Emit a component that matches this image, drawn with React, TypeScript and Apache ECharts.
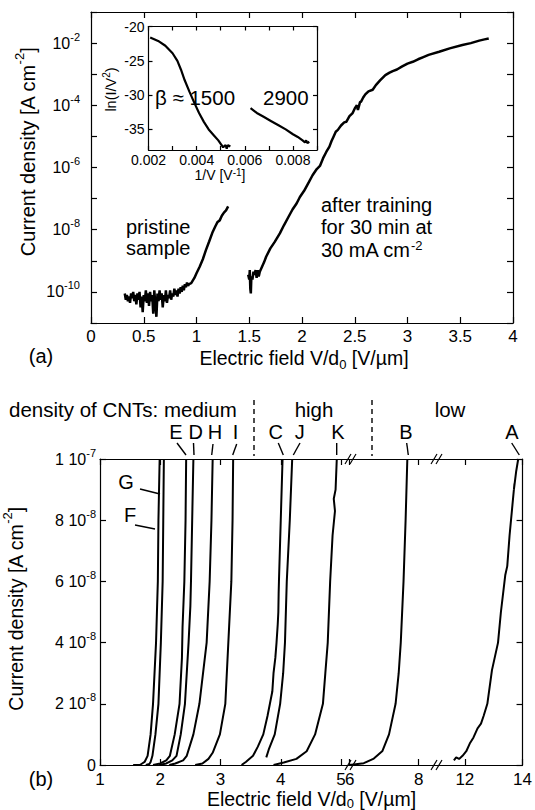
import React, { useEffect, useRef } from 'react';
import * as echarts from 'echarts';

const FONT = '"Liberation Sans", Arial, Helvetica, sans-serif';

// ---------- Panel (a): J–E, log10 of current density ----------
const pristineField = [0.32,0.33,0.34,0.35,0.36,0.37,0.38,0.39,0.40,0.41,0.42,0.43,0.44,0.45,0.46,0.47,0.48,0.49,0.50,0.51,0.52,0.53,0.54,0.55,0.56,0.57,0.58,0.59,0.60,0.61,0.62,0.63,0.64,0.65,0.66,0.67,0.68,0.69,0.70,0.71,0.72,0.73,0.74,0.75,0.76,0.77,0.78,0.79,0.80,0.81,0.82,0.83,0.84,0.85,0.86,0.87,0.88,0.89,0.90,0.91,0.92,0.93,0.95,0.98,1.00,1.03,1.06,1.09,1.12,1.15,1.18,1.20,1.22,1.24,1.26,1.28,1.30];
const pristineLogJ = [-10.05,-10.25,-10.1,-10.3,-10.15,-10.35,-10.05,-10.2,-10.0,-10.3,-10.1,-10.4,-10.05,-10.25,-10.0,-10.5,-10.15,-10.65,-10.1,-10.3,-9.95,-10.35,-10.05,-10.45,-10.0,-10.3,-10.1,-10.7,-9.95,-10.4,-10.8,-10.05,-10.3,-9.95,-10.25,-10.05,-10.5,-10.1,-10.3,-9.95,-10.35,-10.1,-10.2,-9.95,-10.25,-10.05,-10.15,-9.9,-10.1,-9.95,-10.15,-9.9,-10.05,-9.85,-10.0,-9.8,-9.95,-9.75,-9.85,-9.7,-9.8,-9.75,-9.72,-9.55,-9.4,-9.19,-8.95,-8.65,-8.38,-8.1,-7.88,-7.75,-7.7,-7.55,-7.45,-7.38,-7.25];

const trainedField = [1.49,1.50,1.505,1.51,1.515,1.52,1.53,1.54,1.55,1.56,1.57,1.58,1.59,1.60,1.62,1.64,1.66,1.70,1.74,1.79,1.83,1.87,1.91,1.95,1.98,2.02,2.06,2.10,2.14,2.17,2.20,2.23,2.26,2.28,2.30,2.32,2.34,2.37,2.40,2.42,2.45,2.48,2.50,2.52,2.53,2.55,2.56,2.58,2.60,2.63,2.67,2.70,2.74,2.79,2.83,2.86,2.90,2.95,3.00,3.05,3.10,3.15,3.20,3.30,3.40,3.52,3.60,3.68,3.73,3.77];
const trainedLogJ = [-9.45,-9.6,-9.3,-9.9,-10.05,-9.5,-9.6,-9.35,-9.45,-9.3,-9.55,-9.3,-9.5,-9.35,-9.2,-9.05,-8.87,-8.6,-8.4,-8.12,-7.85,-7.6,-7.35,-7.15,-6.95,-6.75,-6.5,-6.25,-6.05,-5.95,-5.7,-5.5,-5.33,-5.15,-5.0,-4.85,-4.79,-4.65,-4.55,-4.53,-4.35,-4.25,-4.1,-4.0,-4.15,-3.9,-3.88,-3.75,-3.65,-3.55,-3.5,-3.35,-3.2,-3.03,-2.95,-2.9,-2.85,-2.75,-2.66,-2.6,-2.52,-2.45,-2.38,-2.28,-2.17,-2.06,-2.0,-1.92,-1.88,-1.85];

// decades shown on the log axis (exponents); labels on every second one
const logDecadeMin = -11;
const logDecadeMax = -1;
const logLabelExps = [-10, -8, -6, -4, -2];

// ---------- Inset: Fowler–Nordheim plot ----------
const fnInvV1 = [0.00207,0.0024,0.0027,0.0030,0.0032,0.00335,0.0035,0.0037,0.0039,0.0041,0.0043,0.0045,0.0047,0.0049,0.0050,0.0051,0.0052,0.00525,0.0053,0.0054];
const fnLn1 = [-21.6,-22.1,-22.8,-23.9,-25.0,-26.3,-27.8,-29.5,-31.1,-32.6,-33.9,-35.0,-35.8,-36.6,-37.1,-37.6,-37.3,-37.8,-37.3,-37.5];
const fnInvV2 = [0.00624,0.0065,0.0068,0.0071,0.0074,0.0077,0.0080,0.0082,0.0084,0.0085,0.00855,0.0086,0.00868];
const fnLn2 = [-31.9,-32.6,-33.2,-33.8,-34.4,-35.0,-35.7,-36.1,-36.6,-36.9,-36.6,-37.0,-36.8];
const insetYTicks = [-35, -30, -25, -20];
const insetXLabels = [0.002, 0.004, 0.006, 0.008];

// ---------- Panel (b): J–E on linear scale, broken field axis ----------
const fieldF = [1.55,1.66,1.70,1.74,1.79,1.84,1.88,1.93,1.96,1.97,1.99];
const jF = [0,0,0.05e-8,0.1e-8,0.3e-8,1e-8,2e-8,4e-8,6e-8,8e-8,10e-8];
const fieldG = [1.76,1.82,1.84,1.87,1.92,1.97,2.01,2.04,2.05,2.06];
const jG = [0,0.03e-8,0.1e-8,0.3e-8,1e-8,2e-8,4e-8,6e-8,8e-8,10e-8];
const fieldE = [1.88,2.0,2.10,2.16,2.24,2.32,2.36,2.37,2.38,2.40,2.42,2.43];
const jE = [0,0.05e-8,0.15e-8,0.3e-8,1e-8,2e-8,3.5e-8,4.5e-8,5e-8,6e-8,8e-8,10e-8];
const fieldD = [1.98,2.10,2.2,2.27,2.34,2.41,2.47,2.50,2.51,2.53,2.55];
const jD = [0,0.05e-8,0.15e-8,0.3e-8,1e-8,2e-8,4e-8,5.2e-8,6e-8,8e-8,10e-8];
const fieldH = [2.15,2.25,2.38,2.44,2.55,2.65,2.77,2.82,2.85,2.87];
const jH = [0,0.05e-8,0.15e-8,0.3e-8,1e-8,2e-8,4e-8,6e-8,8e-8,10e-8];
const fieldI = [2.58,2.7,2.80,2.87,2.99,3.08,3.13,3.18,3.20,3.21];
const jI = [0,0.05e-8,0.2e-8,0.4e-8,1e-8,2e-8,4e-8,6e-8,8e-8,10e-8];
const fieldC = [3.35,3.42,3.54,3.62,3.71,3.78,3.82,3.86,3.88,3.91,3.93,3.95,3.96,3.965,3.97,4.00,4.03];
const jC = [0,0.1e-8,0.3e-8,0.6e-8,1e-8,1.6e-8,2e-8,2.4e-8,3e-8,3.5e-8,4e-8,4.6e-8,5e-8,5.6e-8,6e-8,8e-8,10e-8];
const fieldJ = [3.76,3.80,3.90,3.99,4.04,4.07,4.10,4.15,4.19];
const jJ = [0.25e-8,0.5e-8,1e-8,2e-8,3e-8,4e-8,6e-8,8e-8,10e-8];
const fieldK = [3.88,4.05,4.26,4.43,4.57,4.70,4.74,4.78,4.82,4.86,4.90,4.88,4.91,4.93];
const jK = [0,0.08e-8,0.2e-8,0.45e-8,1e-8,2e-8,3e-8,4e-8,6e-8,7.5e-8,8.3e-8,8.7e-8,9e-8,10e-8];
const fieldB = [5.98,6.12,6.41,6.70,6.95,7.14,7.33,7.42,7.48,7.56,7.62,7.67];
const jB = [0,0.02e-8,0.06e-8,0.21e-8,0.46e-8,1e-8,2e-8,3e-8,4e-8,6e-8,8e-8,10e-8];
const fieldA = [11.62,11.7,11.8,11.92,12.05,12.17,12.3,12.44,12.56,12.65,12.78,12.94,13.15,13.25,13.4,13.47,13.55,13.65,13.72,13.70,13.78,13.85];
const jA = [0.15e-8,0.25e-8,0.2e-8,0.3e-8,0.45e-8,0.7e-8,0.9e-8,1.2e-8,1.35e-8,1.6e-8,2e-8,3.1e-8,4e-8,5e-8,6.2e-8,6.5e-8,7.5e-8,8.5e-8,9.2e-8,9.0e-8,9.6e-8,10e-8];

const curves = [
  { name: 'F', seg: 0, field: fieldF, j: jF },
  { name: 'G', seg: 0, field: fieldG, j: jG },
  { name: 'E', seg: 0, field: fieldE, j: jE },
  { name: 'D', seg: 0, field: fieldD, j: jD },
  { name: 'H', seg: 0, field: fieldH, j: jH },
  { name: 'I', seg: 0, field: fieldI, j: jI },
  { name: 'C', seg: 0, field: fieldC, j: jC },
  { name: 'J', seg: 0, field: fieldJ, j: jJ },
  { name: 'K', seg: 0, field: fieldK, j: jK },
  { name: 'B', seg: 1, field: fieldB, j: jB },
  { name: 'A', seg: 2, field: fieldA, j: jA },
];

// field-axis segments of panel (b): range and tick values
const segRanges = [[1, 5], [5.75, 8.5], [11, 14]];
const segTicks = [[1, 2, 3, 4, 5], [6, 8], [12, 14]];

// ---------- helpers ----------
const richFor = (size: number) => ({
  sup: { fontSize: size, fontFamily: FONT, color: '#000', fill: '#000', verticalAlign: 'top', lineHeight: size },
  sub: { fontSize: size, fontFamily: FONT, color: '#000', fill: '#000', verticalAlign: 'bottom', lineHeight: size },
});

function txt(text: string, x: number, y: number, size: number, align = 'left', rotation = 0, supSize = 0, extraLH = 10) {
  const style: any = {
    text, fontSize: size, fontFamily: FONT, fill: '#000',
    textAlign: align, align, textVerticalAlign: 'middle', verticalAlign: 'middle',
  };
  if (supSize) {
    style.rich = richFor(supSize);
    style.lineHeight = size + extraLH;
  }
  return { type: 'text', x, y, rotation, silent: true, z: 100, style };
}
function seg(x1: number, y1: number, x2: number, y2: number, dashed = false, w = 1.3) {
  return {
    type: 'line', silent: true, z: 100,
    shape: { x1, y1, x2, y2 },
    style: { stroke: '#000', lineWidth: w, lineDash: dashed ? [5, 4] : null },
  };
}

const axisLine = { show: true, onZero: false, lineStyle: { color: '#000', width: 1.2 } };
const tickIn = (len: number, custom?: number[]) => {
  const t: any = { show: true, inside: true, length: len, lineStyle: { color: '#000', width: 1.2 } };
  if (custom) t.customValues = custom;
  return t;
};
const noSplit = { show: false };

const App: React.FC = () => {
  const ref = useRef<HTMLDivElement>(null);
  useEffect(() => {
    if (!ref.current) return;
    const chart = echarts.init(ref.current, null, { renderer: 'svg' });

    const bLabel = (v: number) => {
      const n = Math.round(v * 1e8);
      if (n === 0) return '0';
      if (n === 10) return '1 10{sup|-7}';
      return `${n} 10{sup|-8}`;
    };

    const grids = [
      { left: 91, top: 12, width: 422, height: 311 },
      { left: 148.5, top: 26.5, width: 168.5, height: 123.5 },
      { left: 100, top: 459, width: 241, height: 306 },
      { left: 341, top: 459, width: 95, height: 306 },
      { left: 436, top: 459, width: 88, height: 306 },
    ];

    const xAxis: any[] = [
      { gridIndex: 0, type: 'value', min: 0, max: 4, interval: 0.5, position: 'bottom', axisLine, axisTick: tickIn(6), splitLine: noSplit,
        axisLabel: { fontSize: 17, color: '#000', fontFamily: FONT, margin: 5 } },
      { gridIndex: 0, type: 'value', min: 0, max: 4, interval: 0.5, position: 'top', axisLine, axisTick: tickIn(6), splitLine: noSplit, axisLabel: { show: false } },
      { gridIndex: 1, type: 'value', min: 0.002, max: 0.009, interval: 0.001, position: 'bottom', axisLine, axisTick: tickIn(4), splitLine: noSplit,
        axisLabel: { customValues: insetXLabels, fontSize: 14, color: '#000', fontFamily: FONT, margin: 3,
          formatter: (v: number) => v.toFixed(3) } },
      { gridIndex: 1, type: 'value', min: 0.002, max: 0.009, interval: 0.001, position: 'top', axisLine, axisTick: tickIn(4), splitLine: noSplit, axisLabel: { show: false } },
    ];
    segRanges.forEach((r, i) => {
      xAxis.push({ gridIndex: 2 + i, type: 'value', min: r[0], max: r[1], position: 'bottom', axisLine, splitLine: noSplit,
        axisTick: tickIn(6, segTicks[i]),
        axisLabel: { customValues: segTicks[i], fontSize: 17, color: '#000', fontFamily: FONT, margin: 6 } });
      xAxis.push({ gridIndex: 2 + i, type: 'value', min: r[0], max: r[1], position: 'top', axisLine, splitLine: noSplit,
        axisTick: tickIn(6, segTicks[i]), axisLabel: { show: false } });
    });

    const yAxis: any[] = [
      { gridIndex: 0, type: 'value', min: logDecadeMin, max: logDecadeMax, interval: 1, position: 'left', axisLine, axisTick: tickIn(6), splitLine: noSplit,
        axisLabel: { customValues: logLabelExps, formatter: (e: number) => `10{sup|${Math.round(e)}}`, fontSize: 16, color: '#000', fontFamily: FONT, margin: 11, lineHeight: 24, rich: richFor(11) } },
      { gridIndex: 0, type: 'value', min: logDecadeMin, max: logDecadeMax, interval: 1, position: 'right', axisLine, axisTick: tickIn(6), splitLine: noSplit, axisLabel: { show: false } },
      { gridIndex: 1, type: 'value', min: -38, max: -20, position: 'left', axisLine, axisTick: tickIn(4, insetYTicks), splitLine: noSplit,
        axisLabel: { customValues: insetYTicks, fontSize: 14, color: '#000', fontFamily: FONT, margin: 4 } },
      { gridIndex: 1, type: 'value', min: -38, max: -20, position: 'right', axisLine, axisTick: tickIn(4, insetYTicks), splitLine: noSplit, axisLabel: { show: false } },
      { gridIndex: 2, type: 'value', min: 0, max: 1e-7, interval: 2e-8, position: 'left', axisLine, axisTick: tickIn(6), splitLine: noSplit,
        axisLabel: { formatter: bLabel, fontSize: 16, color: '#000', fontFamily: FONT, margin: 4, lineHeight: 24, rich: richFor(11) } },
      { gridIndex: 3, type: 'value', min: 0, max: 1e-7, show: false, splitLine: noSplit },
      { gridIndex: 4, type: 'value', min: 0, max: 1e-7, interval: 2e-8, position: 'right', axisLine, axisTick: tickIn(6), splitLine: noSplit, axisLabel: { show: false } },
    ];

    const lineSeries = (data: number[][], xi: number, yi: number, w: number, name: string) => ({
      type: 'line', name, xAxisIndex: xi, yAxisIndex: yi, data, symbol: 'none', showSymbol: false, clip: true,
      lineStyle: { color: '#000', width: w }, itemStyle: { color: '#000' }, emphasis: { disabled: true },
    });

    const series: any[] = [
      lineSeries(pristineField.map((x, i) => [x, pristineLogJ[i]]), 0, 0, 2.5, 'pristine sample'),
      lineSeries(trainedField.map((x, i) => [x, trainedLogJ[i]]), 0, 0, 2.5, 'after training'),
      lineSeries(fnInvV1.map((x, i) => [x, fnLn1[i]]), 2, 2, 2.2, 'β 1500'),
      lineSeries(fnInvV2.map((x, i) => [x, fnLn2[i]]), 2, 2, 2.2, 'β 2900'),
      ...curves.map(c => lineSeries(c.field.map((x, i) => [x, c.j[i]]), 4 + 2 * c.seg, 4 + c.seg, 2, c.name)),
    ];

    const letters: [string, number][] = [['E', 176], ['D', 195.6], ['H', 215], ['I', 235.5], ['C', 275.8], ['J', 299.7], ['K', 338], ['B', 406], ['A', 512]];
    const leaders = [
      [177, 443, 186, 455], [193.5, 443, 194, 455], [213, 444, 211.7, 455], [236.7, 444, 232.7, 455],
      [278.3, 443, 283.3, 455], [300, 443, 293.3, 455], [336.7, 443, 336.7, 455], [406.7, 443, 408.3, 455],
      [511.7, 443, 519.3, 455], [140, 489, 160, 494], [135, 525, 155, 529],
    ];
    const breaks = [345, 431];

    const graphic: any[] = [
      txt('Electric field V/d{sub|0} [V/µm]', 304, 358, 19.5, 'center', 0, 13, 6),
      txt('Current density [A cm{sup|-2}]', 28, 152, 20, 'center', Math.PI / 2, 13),
      txt('(a)', 41, 356, 20, 'center'),
      txt('pristine', 126, 227, 20),
      txt('sample', 126, 248, 20),
      txt('after training', 321, 205, 20),
      txt('for 30 min at', 321, 227, 20),
      txt('30 mA cm{sup|-2}', 321, 250, 20, 'left', 0, 13, 3),
      txt('β ≈ 1500', 155, 97, 20.5),
      txt('2900', 263, 97, 20.5),
      txt('ln(I/V{sup|2})', 111, 89.5, 14.5, 'center', Math.PI / 2, 10, 4),
      txt('1/V [V{sup|-1}]', 220, 175, 14, 'center', 0, 10, 2),
      txt('(b)', 41, 779, 20, 'center'),
      txt('Electric field V/d{sub|0} [V/µm]', 311.5, 799, 19.5, 'center', 0, 13, 2),
      txt('Current density [A cm{sup|-2}]', 16, 609, 19.5, 'center', Math.PI / 2, 13),
      txt('density of CNTs: medium', 9, 409, 20.5),
      txt('high', 314, 409, 20.5, 'center'),
      txt('low', 450, 409, 20.5, 'center'),
      txt('G', 126, 482, 20, 'center'),
      txt('F', 130, 515, 20, 'center'),
      ...letters.map(([t, x]) => txt(t, x, 432, 20, 'center')),
      ...leaders.map(l => seg(l[0], l[1], l[2], l[3], false, 1.4)),
      seg(254, 400, 254, 456, true, 1.4),
      seg(372, 400, 372, 456, true, 1.4),
    ];
    breaks.forEach(bx => {
      [459, 765].forEach(by => {
        graphic.push(seg(bx, by + 5, bx + 6, by - 5, false, 1.2));
        graphic.push(seg(bx + 5, by + 5, bx + 11, by - 5, false, 1.2));
      });
    });

    chart.setOption({
      animation: false,
      backgroundColor: '#fff',
      textStyle: { fontFamily: FONT, color: '#000' },
      grid: grids,
      xAxis,
      yAxis,
      series,
      graphic,
    });
    return () => chart.dispose();
  }, []);
  return <div ref={ref} style={{ position: 'absolute', left: 0, top: 0, width: 535, height: 810 }} />;
};

export default App;
